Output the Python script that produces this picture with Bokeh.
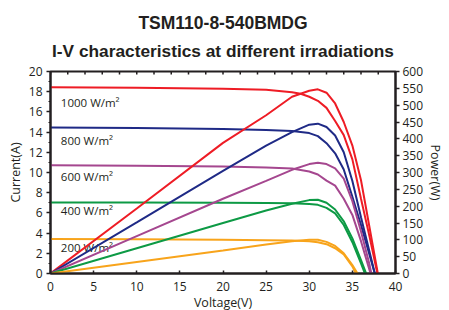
from bokeh.plotting import figure
from bokeh.models import Range1d, LinearAxis, Title, FixedTicker
from bokeh.embed import file_html
from bokeh.resources import INLINE
from bokeh.core.properties import value

# ---------------- data ----------------
title_lines = ["TSM110-8-540BMDG", "I-V characteristics at different irradiations"]
labels = ["1000 W/m²", "800 W/m²", "600 W/m²", "400 W/m²", "200 W/m²"]
colors = ["#ee1c25", "#1f2a86", "#a5478f", "#0d9a45", "#f8a41b"]

# I-V curves (Voltage V, Current A)
v_iv_1000 = [0, 10, 20, 25, 28, 29, 30, 31, 32, 33, 34, 35, 36, 37, 37.9]
i_1000 = [18.45, 18.4, 18.3, 18.2, 17.95, 17.8, 17.5, 17.1, 16.4, 15.1, 13.7, 11.3, 7.4, 3.6, 0]
v_iv_800 = [0, 10, 20, 25, 28, 30, 31, 32, 33, 34, 35, 36, 37, 37.6]
i_800 = [14.45, 14.4, 14.3, 14.2, 14.1, 13.9, 13.6, 12.9, 11.9, 10.3, 7.6, 4.8, 1.8, 0]
v_iv_600 = [0, 10, 20, 25, 28, 30, 31, 32, 33, 34, 35, 36, 37, 37.1]
i_600 = [10.72, 10.68, 10.6, 10.5, 10.4, 10.1, 9.8, 9.2, 8.7, 7.4, 5.8, 3.2, 0.3, 0]
v_iv_400 = [0, 10, 20, 25, 28, 30, 31, 32, 33, 34, 35, 36, 36.45]
i_400 = [7.03, 7.02, 7.0, 6.98, 6.95, 6.88, 6.8, 6.5, 5.95, 4.8, 3.1, 1.0, 0]
v_iv_200 = [0, 10, 20, 25, 28, 30, 31, 32, 33, 34, 35, 35.4]
i_200 = [3.41, 3.38, 3.34, 3.3, 3.26, 3.2, 3.1, 2.9, 2.5, 1.9, 0.7, 0]

# P-V curves (Voltage V, Power W)
v_pv_1000 = [0, 10, 20, 25, 28, 30, 31, 32, 33, 34, 35, 36, 37, 37.95]
p_1000 = [0, 193, 388, 470, 525, 543, 547, 537, 505, 450, 380, 277, 135, 0]
v_pv_800 = [0, 10, 20, 25, 28, 30, 31, 32, 33, 34, 35, 36, 37, 37.6]
p_800 = [0, 152, 305, 380, 420, 442, 445, 435, 410, 360, 275, 167, 63, 0]
v_pv_600 = [0, 10, 20, 25, 28, 30, 31, 32, 33, 34, 35, 36, 37, 37.2]
p_600 = [0, 111, 222, 275, 308, 325, 329, 325, 312, 282, 215, 125, 25, 0]
v_pv_400 = [0, 10, 20, 25, 28, 30, 31, 32, 33, 34, 35, 36, 36.6]
p_400 = [0, 75, 150, 187, 207, 218, 219, 210, 190, 155, 104, 40, 0]
v_pv_200 = [0, 10, 20, 25, 28, 30, 31, 32, 33, 34, 35, 35.6]
p_200 = [0, 34, 68, 86, 96, 100, 100, 94, 82, 60, 25, 0]

x_ticks = [0, 5, 10, 15, 20, 25, 30, 35, 40]
top_ticks = list(range(0, 41, 2))
y_ticks = [0, 2, 4, 6, 8, 10, 12, 14, 16, 18, 20]
p_ticks = [0, 50, 100, 150, 200, 250, 300, 350, 400, 450, 500, 550, 600]

iv_sets = [(v_iv_1000, i_1000), (v_iv_800, i_800), (v_iv_600, i_600),
           (v_iv_400, i_400), (v_iv_200, i_200)]
pv_sets = [(v_pv_1000, p_1000), (v_pv_800, p_800), (v_pv_600, p_600),
           (v_pv_400, p_400), (v_pv_200, p_200)]

# ---------------- figure ----------------
INK = "#231f20"
FONT = "Open Sans"
X_MAX, Y_MAX = 40, 20
p = figure(frame_width=345, frame_height=202,
           x_range=Range1d(0, X_MAX), y_range=Range1d(0, Y_MAX),
           output_backend="svg", toolbar_location=None,
           min_border_left=50, min_border_right=46,
           min_border_top=71, min_border_bottom=20,
           background_fill_color="white", border_fill_color="white",
           outline_line_color=INK, outline_line_width=2)
p.extra_y_ranges = {"power": Range1d(0, 600)}
p.grid.visible = False

# bottom axis
xa = p.xaxis[0]
xa.ticker = FixedTicker(ticks=x_ticks)
xa.axis_label = "Voltage(V)"
# left axis
ya = p.yaxis[0]
ya.ticker = FixedTicker(ticks=y_ticks, minor_ticks=list(range(0, 21)))
ya.axis_label = "Current(A)"
# right axis
ra = LinearAxis(y_range_name="power", axis_label="Power(W)",
                ticker=FixedTicker(ticks=p_ticks))
p.add_layout(ra, "right")

for ax in (xa, ya, ra):
    ax.axis_line_color = INK
    ax.axis_line_width = 2
    ax.major_tick_line_color = INK
    ax.major_tick_line_width = 1.5
    ax.minor_tick_line_color = INK
    ax.major_label_text_font = FONT
    ax.major_label_text_font_size = "12px"
    ax.major_label_text_color = INK
    ax.axis_label_text_font = FONT
    ax.axis_label_text_font_size = "12.5px"
    ax.axis_label_text_font_style = "normal"
    ax.axis_label_text_color = INK

xa.major_tick_in = 3
xa.major_tick_out = 0
xa.minor_tick_line_color = None
xa.major_label_standoff = 8
xa.axis_label_standoff = 0

ya.major_tick_in = 0
ya.major_tick_out = 4
ya.minor_tick_in = 0
ya.minor_tick_out = 2
ya.major_label_standoff = 4
ya.axis_label_standoff = 2

ra.major_tick_in = 0
ra.major_tick_out = 4
ra.minor_tick_line_color = None
ra.major_label_standoff = 3
ra.axis_label_standoff = 1

# titles (first added sits closest to the plot)
p.add_layout(Title(text=title_lines[1], align="center", vertical_align="top",
                   text_font="Liberation Sans", text_font_style="bold",
                   text_font_size="17.3px", text_color=INK, standoff=17), "above")
p.add_layout(Title(text=title_lines[0], align="center", vertical_align="bottom",
                   text_font="Liberation Sans", text_font_style="bold",
                   text_font_size="17.5px", text_color=INK, standoff=0), "above")

# small inward ticks along the top edge of the frame
p.segment(x0=top_ticks, x1=top_ticks, y0=[Y_MAX] * len(top_ticks),
          y1=[Y_MAX - 0.3] * len(top_ticks), line_color=INK, line_width=1.5)

# curve labels
label_y = [16.97, 13.19, 9.63, 6.2, 2.55]
p.text(x=[1.2] * 5, y=label_y, text=labels, text_font=value(FONT),
       text_font_size="11.5px", text_color=INK, text_baseline="middle",
       text_align="left")

# curves
for (v, i), c in zip(iv_sets, colors):
    p.line(v, i, line_color=c, line_width=2)
for (v, pw), c in zip(pv_sets, colors):
    p.line(v, pw, line_color=c, line_width=2, y_range_name="power")

open("out.html", "w").write(file_html(p, INLINE))
